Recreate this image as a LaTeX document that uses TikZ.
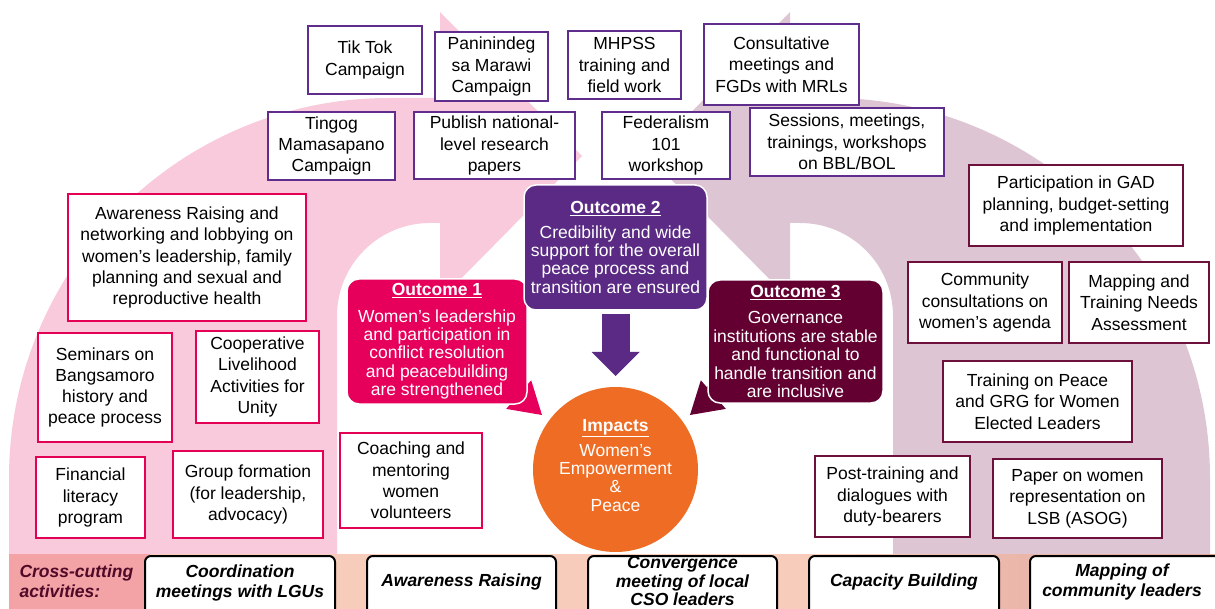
\documentclass[tikz,border=0pt]{standalone}
\usepackage{fontspec}
\setmainfont{Liberation Sans}
\usetikzlibrary{arrows.meta}

\definecolor{bgpink}{RGB}{249,202,220}
\definecolor{bgmauve}{RGB}{222,197,211}
\definecolor{oneCol}{RGB}{230,0,92}
\definecolor{twoCol}{RGB}{90,42,132}
\definecolor{threeCol}{RGB}{99,0,49}
\definecolor{impCol}{RGB}{238,108,36}
\definecolor{edgePur}{RGB}{95,45,140}
\definecolor{edgeRed}{RGB}{228,0,84}
\definecolor{edgeMar}{RGB}{110,16,60}
\definecolor{barSalmon}{RGB}{243,162,166}
\definecolor{barPeach}{RGB}{248,204,186}
\definecolor{barRose}{RGB}{224,163,156}
\definecolor{crossText}{RGB}{80,10,40}

\begin{document}
\begin{tikzpicture}[x=1pt,y=-1pt,
  boxtext/.style={font=\fontsize{17.5}{21.3}\selectfont, align=center},
  actbox/.style={boxtext, draw=#1, line width=2.6pt, fill=white, inner sep=0pt},
  outbox/.style={font=\fontsize{17.5}{18.4}\selectfont, align=center, text=white,
    fill=#1, draw=white, line width=1.5pt, rounded corners=12pt, inner sep=0pt},
  barbox/.style={draw=black, line width=2pt, fill=white, rounded corners=6pt,
    minimum height=74pt, inner sep=0pt},
  bartext/.style={font=\fontsize{17.5}{20}\selectfont\bfseries\itshape, align=center},
  blockarrow/.style={draw=#1, line width=20pt,
    -{Triangle[width=38pt,length=31pt,line width=0pt]}},
]
\path[use as bounding box] (0,0) rectangle (1215,609);
\clip (0,0) rectangle (1215,609);

% bent background arrows
\fill[bgpink] (9,560) -- (9,478) .. controls (9,268.1) and (179.1,98) .. (389,98)
  -- (440,98) -- (440,12) -- (582,156) -- (440,300) -- (440,223) -- (430,223)
  .. controls (378.6,223) and (337,264.6) .. (337,316) -- (337,560) -- cycle;
\fill[bgmauve] (1210,560) -- (1210,478) .. controls (1210,268.1) and (1039.9,98) .. (830,98)
  -- (790,98) -- (790,12) -- (648,156) -- (790,300) -- (790,223) -- (800,223)
  .. controls (851.4,223) and (893,264.6) .. (893,316) -- (893,560) -- cycle;

% cross-cutting bar
\fill[barSalmon] (9,554) rectangle (150,615);
\fill[barPeach] (150,554) rectangle (1215,615);
\shade[left color=barPeach, right color=barRose] (800,554) rectangle (1215,615);

\node[barbox, minimum width=190pt] (coordbox) at (240,593) {};
\node[barbox, minimum width=189pt] (awbox) at (461.5,593) {};
\node[barbox, minimum width=189pt] (convbox) at (682.5,593) {};
\node[barbox, minimum width=190pt] (capbox) at (904,593) {};
\node[barbox, minimum width=190pt] (mapbox) at (1125,593) {};

\node[bartext, text=crossText, align=left, anchor=west] (crosslbl) at (16,581) {Cross-cutting\\activities:};
\node[bartext] (coordlbl) at (240,583) {Coordination\\meetings with LGUs};
\node[bartext] (awlbl) at (461.5,582) {Awareness Raising};
\node[bartext, font=\fontsize{17.5}{18.5}\selectfont\bfseries\itshape] (convlbl) at (682.5,581) {Convergence\\meeting of local\\CSO leaders};
\node[bartext] (caplbl) at (904,582) {Capacity Building};
\node[bartext] (maplbl) at (1122,582) {Mapping of\\community leaders};

% impact circle
\node[circle, fill=impCol, minimum size=165pt, inner sep=0pt] (impact) at (615.5,469.5) {};
\node[text=white, align=center, inner sep=0pt, font=\fontsize{17.5}{18.4}\selectfont]
  (impactlbl) at (615.5,465.5)
  {\underline{\textbf{Impacts}}\\[6pt]Women’s\\Empowerment\\\&\\Peace};

% outcome boxes with block arrows into the impact
\coordinate (a1s) at (470,352);
\coordinate (a1t) at (542,415);
\coordinate (a3s) at (762,352);
\coordinate (a3t) at (690,415);
\coordinate (a2t) at (615.5,376);

\draw[blockarrow=oneCol] (a1s) -- (a1t);
\draw[blockarrow=threeCol] (a3s) -- (a3t);

\node[outbox=oneCol, minimum width=180pt, minimum height=125pt] (o1) at (437,341.5)
  {\underline{\textbf{Outcome 1}}\\[8pt]Women’s leadership\\and participation in\\conflict resolution\\and peacebuilding\\are strengthened};
\node[outbox=twoCol, minimum width=183pt, minimum height=125pt] (o2) at (615.5,247.5)
  {\underline{\textbf{Outcome 2}}\\[6pt]Credibility and wide\\support for the overall\\peace process and\\transition are ensured};
\node[outbox=threeCol, minimum width=175pt, minimum height=123pt] (o3) at (795.5,341.5)
  {\underline{\textbf{Outcome 3}}\\[8pt]Governance\\institutions are stable\\and functional to\\handle transition and\\are inclusive};

\draw[twoCol, line width=28pt, -{Triangle[width=48pt,length=24pt,line width=0pt]}]
  ([yshift=-3pt]o2.south) -- (a2t);

% activity boxes for outcome 2
\node[actbox=edgePur, minimum width=114pt, minimum height=68pt] (tiktok) at (365,60) {Tik Tok\\Campaign};
\node[actbox=edgePur, minimum width=113pt, minimum height=69pt] (panin) at (491.5,66.5) {Paninindeg\\sa Marawi\\Campaign};
\node[actbox=edgePur, minimum width=113pt, minimum height=68pt] (mhpss) at (624.5,65) {MHPSS\\training and\\field work};
\node[actbox=edgePur, minimum width=155pt, minimum height=81pt] (consult) at (781.5,64.5) {Consultative\\meetings and\\FGDs with MRLs};
\node[actbox=edgePur, minimum width=127pt, minimum height=68pt] (tingog) at (331.5,146) {Tingog\\Mamasapano\\Campaign};
\node[actbox=edgePur, minimum width=161pt, minimum height=67pt] (publish) at (494.5,145.5) {Publish national-\\level research\\papers};
\node[actbox=edgePur, minimum width=128pt, minimum height=67pt] (feder) at (666,145.5) {Federalism\\101\\workshop};
\node[actbox=edgePur, minimum width=194pt, minimum height=68pt] (sessions) at (847,142) {Sessions, meetings,\\trainings, workshops\\on BBL/BOL};

% activity boxes for outcome 1
\node[actbox=edgeRed, minimum width=238pt, minimum height=127pt] (aware) at (187,257.5) {Awareness Raising and\\networking and lobbying on\\women’s leadership, family\\planning and sexual and\\reproductive health};
\node[actbox=edgeRed, minimum width=134pt, minimum height=109pt] (seminar) at (105,387.5) {Seminars on\\Bangsamoro\\history and\\peace process};
\node[actbox=edgeRed, minimum width=123pt, minimum height=92pt] (coop) at (257.5,377) {Cooperative\\Livelihood\\Activities for\\Unity};
\node[actbox=edgeRed, minimum width=109pt, minimum height=81pt] (finlit) at (90.5,497.5) {Financial\\literacy\\program};
\node[actbox=edgeRed, minimum width=150pt, minimum height=87pt] (group) at (248,494.5) {Group formation\\(for leadership,\\advocacy)};
\node[actbox=edgeRed, minimum width=142pt, minimum height=95pt] (coach) at (411,480.5) {Coaching and\\mentoring\\women\\volunteers};

% activity boxes for outcome 3
\node[actbox=edgeMar, minimum width=214pt, minimum height=81pt] (gad) at (1076,205.5) {Participation in GAD\\planning, budget-setting\\and implementation};
\node[actbox=edgeMar, minimum width=154pt, minimum height=81pt] (commun) at (985,302.5) {Community\\consultations on\\women’s agenda};
\node[actbox=edgeMar, minimum width=140pt, minimum height=81pt] (tna) at (1139,302.5) {Mapping and\\Training Needs\\Assessment};
\node[actbox=edgeMar, minimum width=189pt, minimum height=81pt] (grg) at (1037.5,401.5) {Training on Peace\\and GRG for Women\\Elected Leaders};
\node[actbox=edgeMar, minimum width=155pt, minimum height=81pt] (posttr) at (892.5,496.5) {Post-training and\\dialogues with\\duty-bearers};
\node[actbox=edgeMar, minimum width=169pt, minimum height=79pt] (paper) at (1077.5,498.5) {Paper on women\\representation on\\LSB (ASOG)};
\end{tikzpicture}
\end{document}
